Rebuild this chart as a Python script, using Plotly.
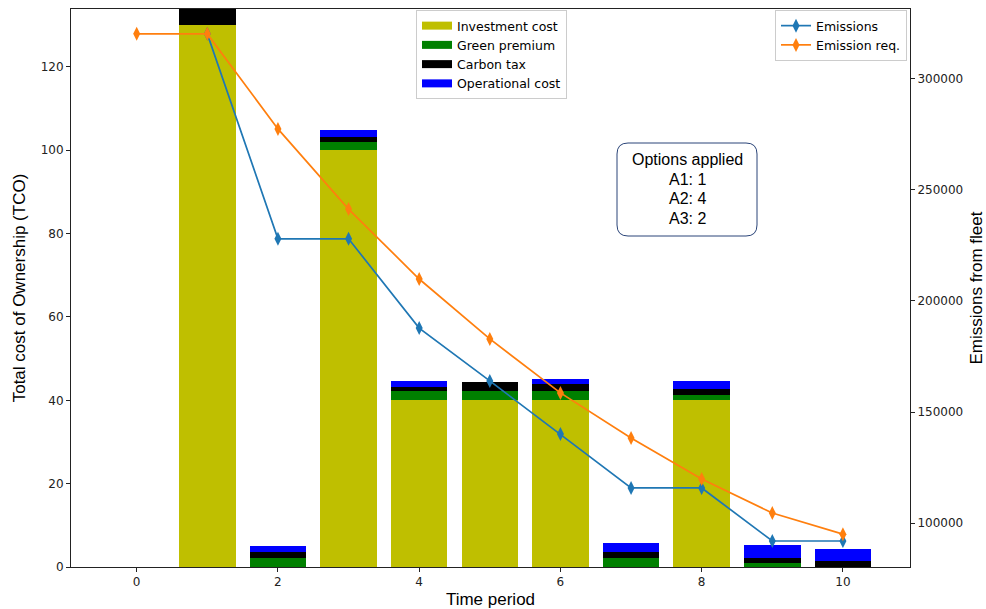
import plotly.graph_objects as go

periods = [1, 2, 3, 4, 5, 6, 7, 8, 9, 10]
investment = [130, 0, 100, 40, 40, 40, 0, 40, 0, 0]
green_premium = [0, 2.2, 2.1, 2.3, 2.3, 2.3, 2.1, 1.2, 0.9, 0.1]
carbon_tax = [4.5, 1.3, 1.1, 1.0, 2.1, 1.5, 1.6, 1.45, 1.2, 1.4]
operational = [1.0, 1.6, 1.6, 1.4, 0.0, 1.2, 2.0, 2.0, 3.1, 2.9]

em_periods = [1, 2, 3, 4, 5, 6, 7, 8, 9, 10]
emissions = [320300, 228000, 228000, 187800, 164000, 140100, 115800, 115800, 91900, 91900]
req_periods = [0, 1, 2, 3, 4, 5, 6, 7, 8, 9, 10]
emission_req = [320300, 320300, 277500, 241400, 209900, 182900, 158600, 138300, 119800, 104500, 95000]

options_text = ["Options applied", "A1: 1", "A2: 4", "A3: 2"]

L, R, T, B = 71, 910, 9, 567
W, H = R - L, B - T


def px(x):
    return (x - L) / W


def py(y):
    return (B - y) / H


fig = go.Figure()
bar_specs = [
    ("Investment cost", investment, "#bfbf00"),
    ("Green premium", green_premium, "#008000"),
    ("Carbon tax", carbon_tax, "#000000"),
    ("Operational cost", operational, "#0000ff"),
]
for name, vals, col in bar_specs:
    fig.add_trace(go.Bar(x=periods, y=vals, name=name, marker=dict(color=col, line=dict(width=0)),
                         width=0.8, showlegend=False))
# legend entries drawn as wide rectangles like matplotlib patches
for name, vals, col in bar_specs:
    fig.add_trace(go.Scatter(x=[None], y=[None], name=name, mode="lines",
                             line=dict(color=col, width=8), legend="legend"))

fig.add_trace(go.Scatter(x=em_periods, y=emissions, name="Emissions", mode="lines+markers",
                         line=dict(color="#1f77b4", width=1.7),
                         marker=dict(symbol="diamond-tall", size=10, color="#1f77b4"),
                         yaxis="y2", legend="legend2"))
fig.add_trace(go.Scatter(x=req_periods, y=emission_req, name="Emission req.", mode="lines+markers",
                         line=dict(color="#ff7f0e", width=1.7),
                         marker=dict(symbol="diamond-tall", size=10, color="#ff7f0e"),
                         yaxis="y2", legend="legend2"))

tickfont = dict(family="DejaVu Sans", size=12, color="#222")
titlefont = dict(family="Liberation Sans, Arial", size=17, color="#000")

x0p, x1p = px(617), px(757)
y0p, y1p = py(236), py(143)
rx, ry = 11 / W, 11 / H
path = (f"M {x0p+rx},{y0p} L {x1p-rx},{y0p} Q {x1p},{y0p} {x1p},{y0p+ry} "
        f"L {x1p},{y1p-ry} Q {x1p},{y1p} {x1p-rx},{y1p} L {x0p+rx},{y1p} "
        f"Q {x0p},{y1p} {x0p},{y1p-ry} L {x0p},{y0p+ry} Q {x0p},{y0p} {x0p+rx},{y0p} Z")

line_ys = [160, 179, 198, 218]
annotations = [dict(x=px(687), y=py(yy), xref="paper", yref="paper", text=t, showarrow=False,
                    xanchor="center", yanchor="middle",
                    font=dict(family="Liberation Sans, Arial", size=16, color="#000"))
               for t, yy in zip(options_text, line_ys)]

axis_common = dict(ticks="outside", ticklen=4, tickcolor="#222", showgrid=False, zeroline=False,
                   showline=True, linecolor="#222", linewidth=1, tickfont=tickfont, automargin=False)

fig.update_layout(
    width=986, height=609,
    margin=dict(l=L, r=986 - R, t=T, b=609 - B),
    paper_bgcolor="white", plot_bgcolor="white",
    barmode="stack", bargap=0.2,
    xaxis=dict(range=[-0.93, 10.95], tickmode="array", tickvals=[0, 2, 4, 6, 8, 10], mirror=True,
               title=dict(text="Time period", font=titlefont, standoff=10), **axis_common),
    yaxis=dict(range=[0, 133.9], tickmode="array", tickvals=[0, 20, 40, 60, 80, 100, 120], mirror=True,
               title=dict(text="Total cost of Ownership (TCO)", font=titlefont, standoff=10), **axis_common),
    yaxis2=dict(range=[80200, 331500], overlaying="y", side="right", tickmode="array",
                tickvals=[100000, 150000, 200000, 250000, 300000], tickformat="d",
                title=dict(text="Emissions from fleet", font=titlefont, standoff=10), **axis_common),
    legend=dict(x=px(416), y=py(10), xanchor="left", yanchor="top",
                bgcolor="white", bordercolor="#cccccc", borderwidth=1,
                font=dict(family="DejaVu Sans", size=12.5, color="#000"), traceorder="normal",
                tracegroupgap=0, itemwidth=30),
    legend2=dict(x=px(775), y=py(10), xanchor="left", yanchor="top",
                 bgcolor="white", bordercolor="#cccccc", borderwidth=1,
                 font=dict(family="DejaVu Sans", size=12.5, color="#000"), itemwidth=30),
    shapes=[dict(type="path", path=path, xref="paper", yref="paper",
                 line=dict(color="#2a4478", width=1), fillcolor="white", layer="above")],
    annotations=annotations,
    showlegend=True,
)

fig.write_html("out.html")
